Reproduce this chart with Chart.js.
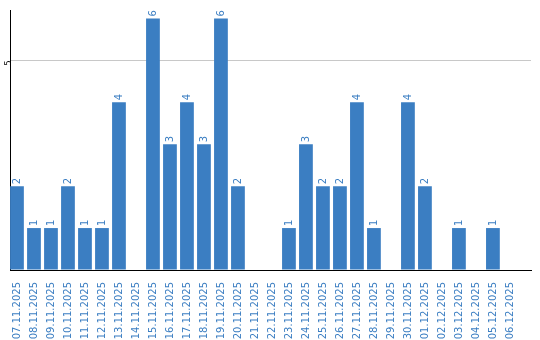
<!DOCTYPE html>
<html><head><meta charset="utf-8">
<script src="https://cdn.jsdelivr.net/npm/chart.js@4/dist/chart.umd.min.js"></script>
<style>html,body{margin:0;padding:0;background:#fff}#w{width:540px;height:340px}</style>
</head><body><div id="w"><canvas id="c"></canvas></div>
<script>
const categories = ["07.11.2025","08.11.2025","09.11.2025","10.11.2025","11.11.2025","12.11.2025","13.11.2025","14.11.2025","15.11.2025","16.11.2025","17.11.2025","18.11.2025","19.11.2025","20.11.2025","21.11.2025","22.11.2025","23.11.2025","24.11.2025","25.11.2025","26.11.2025","27.11.2025","28.11.2025","29.11.2025","30.11.2025","01.12.2025","02.12.2025","03.12.2025","04.12.2025","05.12.2025","06.12.2025"];
const counts = [2,1,1,2,1,1,4,0,6,3,4,3,6,2,0,0,1,3,2,2,4,1,0,4,2,0,1,0,1,0];
const yTicks = [5];

const BLUE = '#3b7ec2';
const valueLabels = {
  id: 'valueLabels',
  afterDatasetsDraw(chart) {
    const ctx = chart.ctx;
    const meta = chart.getDatasetMeta(0);
    ctx.save();
    ctx.fillStyle = BLUE;
    ctx.font = '10px "DejaVu Sans"';
    ctx.textAlign = 'left';
    ctx.textBaseline = 'middle';
    meta.data.forEach((bar, i) => {
      const v = counts[i];
      if (!v) return;
      ctx.save();
      ctx.translate(bar.x, bar.y - 2);
      ctx.rotate(-Math.PI / 2);
      ctx.fillText(String(v), 0, 0);
      ctx.restore();
    });
    ctx.restore();
  }
};

new Chart(document.getElementById('c'), {
  type: 'bar',
  data: { labels: categories, datasets: [{ data: counts, backgroundColor: BLUE, categoryPercentage: 1, barPercentage: 0.81 }] },
  options: {
    responsive: true, maintainAspectRatio: false, animation: false,
    layout: { padding: { top: 10, right: 9, left: 0, bottom: 0 } },
    plugins: { legend: { display: false }, tooltip: { enabled: false } },
    scales: {
      x: {
        grid: { display: false },
        border: { display: true, color: '#000', width: 1 },
        ticks: { color: BLUE, font: { family: 'DejaVu Sans', size: 10 }, minRotation: 90, maxRotation: 90, autoSkip: false, padding: 4 },
        afterBuildTicks(s) { s._valueRange = categories.length + 0.65; s._startValue = -0.41; },
        afterFit(s) { s.height = 70; }
      },
      y: {
        min: 0, max: 6.2,
        border: { display: true, color: '#000', width: 1 },
        grid: { color: c => yTicks.includes(c.tick && c.tick.value) ? '#c8c8c8' : 'rgba(0,0,0,0)', drawTicks: false, lineWidth: 1 },
        ticks: { stepSize: 5, includeBounds: false, minRotation: 90, maxRotation: 90, padding: 1, color: '#000', font: { family: 'DejaVu Sans', size: 8 },
          callback: v => yTicks.includes(v) ? String(v) : '' },
        afterFit(s) { s.width = 10; }
      }
    }
  },
  plugins: [valueLabels]
});
</script></body></html>
